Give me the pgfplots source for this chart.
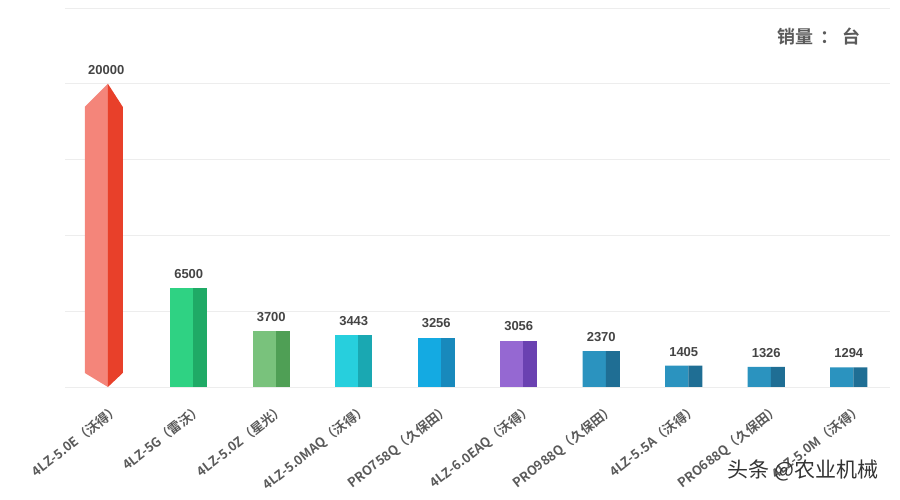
\documentclass[border=0pt]{standalone}
\usepackage{pgfplots}
\pgfplotsset{compat=1.18}
\usepackage{fontspec}
\setmainfont{Noto Sans CJK SC}[BoldFont={Noto Sans CJK SC Bold}]
\newfontfamily\numfont{Liberation Sans}
\definecolor{gridc}{HTML}{EDEDED}
\definecolor{labc}{HTML}{5A5A5A}
\definecolor{valc}{HTML}{444444}
\definecolor{redL}{HTML}{F4857A}
\definecolor{redR}{HTML}{E8402A}
\definecolor{grnL}{HTML}{2FD283}
\definecolor{grnR}{HTML}{1FAA66}
\definecolor{lgrL}{HTML}{79C27C}
\definecolor{lgrR}{HTML}{4F9F55}
\definecolor{cyaL}{HTML}{27CFDD}
\definecolor{cyaR}{HTML}{1AA8B2}
\definecolor{bluL}{HTML}{14AAE2}
\definecolor{bluR}{HTML}{1889BC}
\definecolor{purL}{HTML}{9568D2}
\definecolor{purR}{HTML}{6A41B1}
\definecolor{stlL}{HTML}{2B93BF}
\definecolor{stlR}{HTML}{1F6E94}
\begin{document}
\begin{tikzpicture}
\begin{axis}[
  at={(0,0)}, anchor=south west,
  scale only axis, width=825pt, height=379pt,
  xmin=-0.5, xmax=9.5, ymin=0, ymax=25000,
  ytick={0,5000,10000,15000,20000,25000}, yticklabels={},
  ymajorgrids, grid style={color=gridc, line width=0.8pt},
  axis line style={draw=none}, major tick style={draw=none},
  xtick={0,1,2,3,4,5,6,7,8,9},
  xticklabels={4LZ-5.0E（沃得）,4LZ-5G（雷沃）,4LZ-5.0Z（星光）,4LZ-5.0MAQ（沃得）,PRO758Q（久保田）,4LZ-6.0EAQ（沃得）,PRO988Q（久保田）,4LZ-5.5A（沃得）,PRO688Q（久保田）,4LZ-5.0M（沃得）},
  x tick label style={rotate=38, anchor=north east, font=\bfseries\fontsize{13}{13}\selectfont, text=labc, inner sep=1pt, yshift=-16pt, xshift=-2pt},
  /pgf/number format/.cd, fixed, precision=0, 1000 sep={}, assume math mode=true,
]
% red prism (pointed top and bottom)
\addplot[fill=redL, draw=none] coordinates {(-0.26,925) (-0.26,18480) (0.02,20000) (0.02,0)};
\addplot[fill=redR, draw=none] coordinates {(0.02,20000) (0.20,18480) (0.20,925) (0.02,0)};
% two faces of each bar
\addplot[ybar, bar width=0.28, bar shift=-0.085, fill=grnL, draw=none] coordinates {(1,6500)};
\addplot[ybar, bar width=0.17, bar shift=0.14, fill=grnR, draw=none] coordinates {(1,6500)};
\addplot[ybar, bar width=0.28, bar shift=-0.085, fill=lgrL, draw=none] coordinates {(2,3700)};
\addplot[ybar, bar width=0.17, bar shift=0.14, fill=lgrR, draw=none] coordinates {(2,3700)};
\addplot[ybar, bar width=0.28, bar shift=-0.085, fill=cyaL, draw=none] coordinates {(3,3443)};
\addplot[ybar, bar width=0.17, bar shift=0.14, fill=cyaR, draw=none] coordinates {(3,3443)};
\addplot[ybar, bar width=0.28, bar shift=-0.085, fill=bluL, draw=none] coordinates {(4,3256)};
\addplot[ybar, bar width=0.17, bar shift=0.14, fill=bluR, draw=none] coordinates {(4,3256)};
\addplot[ybar, bar width=0.28, bar shift=-0.085, fill=purL, draw=none] coordinates {(5,3056)};
\addplot[ybar, bar width=0.17, bar shift=0.14, fill=purR, draw=none] coordinates {(5,3056)};
\addplot[ybar, bar width=0.28, bar shift=-0.085, fill=stlL, draw=none] coordinates {(6,2370) (7,1405) (8,1326) (9,1294)};
\addplot[ybar, bar width=0.17, bar shift=0.14, fill=stlR, draw=none] coordinates {(6,2370) (7,1405) (8,1326) (9,1294)};
% value labels
\addplot[draw=none, mark=none, nodes near coords,
  nodes near coords style={font=\numfont\bfseries\fontsize{13}{13}\selectfont, text=valc, anchor=south, yshift=6pt}]
  coordinates {(0,20000) (1,6500) (2,3700) (3,3443) (4,3256) (5,3056) (6,2370) (7,1405) (8,1326) (9,1294)};
\end{axis}
\node[font=\bfseries\fontsize{18}{18}\selectfont, text=labc] at (754pt,350pt) {销量\hspace{7pt}：\hspace{4pt}台};
\node[font=\fontsize{21}{21}\selectfont, text=black!80] at (738pt,-83pt) {头条 @农业机械};
\pgfresetboundingbox
\path (-65pt,-113pt) rectangle (835pt,387pt);
\end{tikzpicture}
\end{document}
